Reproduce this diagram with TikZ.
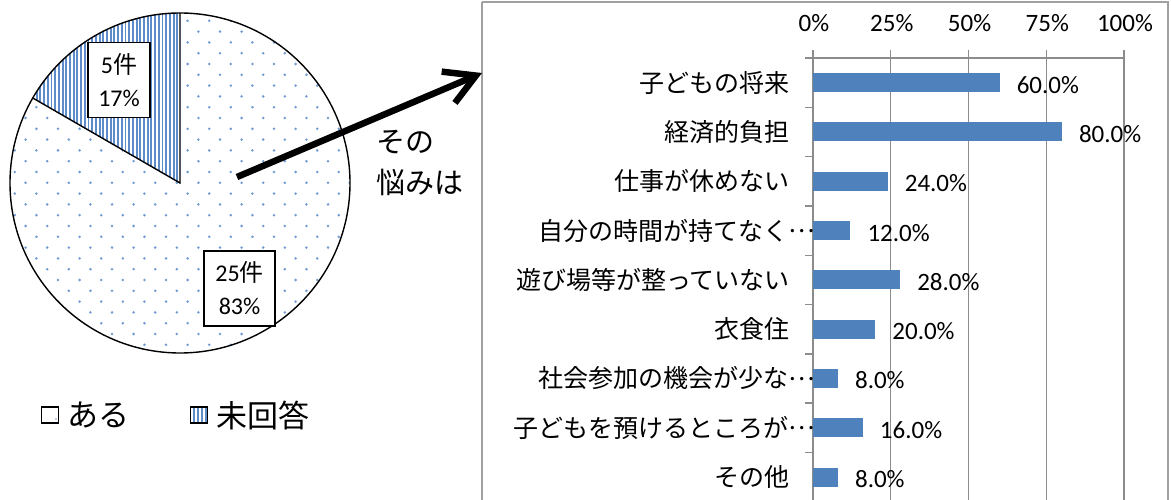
\documentclass[tikz,border=0pt]{standalone}
\usepackage{fontspec}
\setmainfont{Carlito}
\newfontfamily\cjk{Noto Sans CJK JP}
\usetikzlibrary{arrows.meta}
\definecolor{barblue}{HTML}{4F81BD}
\definecolor{dotblue}{HTML}{709BD2}
\definecolor{stripeblue}{HTML}{5E8CC8}
\definecolor{gridgray}{HTML}{8C8C8C}
\definecolor{framegray}{HTML}{A0A0A0}
\tikzset{
  piebox/.style={draw=black, line width=1.2pt, fill=white, align=center, inner sep=0pt,
    font=\fontsize{24}{33}\selectfont},
  catlabel/.style={anchor=east, inner sep=0pt, font=\cjk\fontsize{25}{25}\selectfont},
  vallabel/.style={anchor=base west, inner sep=0pt, font=\fontsize{25}{25}\selectfont},
  axlabel/.style={anchor=base, inner sep=0pt, font=\fontsize{25}{25}\selectfont},
  bar/.style={fill=barblue, draw=none},
  grid/.style={draw=gridgray, line width=1.4pt},
  legtext/.style={anchor=west, inner sep=0pt, font=\cjk\fontsize{31}{31}\selectfont},
}
\newcommand{\myell}{\raisebox{0.3em}{…}}
\begin{document}
\begin{tikzpicture}[x=1pt,y=-1pt]
\useasboundingbox (0,0) rectangle (1171,500);
% ---------- pie ----------
\coordinate (pc) at (180,183);
\begin{scope}
  \clip (pc) circle (170);
  \foreach \r in {0,...,32} {
    \foreach \c in {0,...,16} {
      \fill[dotblue] ({4 + 21.6*\c + mod(\r,2)*10.8}, {10 + 10.8*\r}) circle (1.4);
    }
  }
\end{scope}
\begin{scope}
  \clip (pc) -- (180,13) arc[start angle=-90, end angle=-150, radius=170] -- cycle;
  \fill[white] (0,0) rectangle (200,200);
  \foreach \i in {0,...,40} {
    \draw[stripeblue, line width=1.9pt] ({181 - 3.7*\i}, 0) -- ({181 - 3.7*\i}, 190);
  }
\end{scope}
\draw[line width=1.4pt] (pc) circle (170);
\draw[line width=1.4pt] (180,13) -- (pc) -- ++(-150:170);
\node[piebox, minimum width=62pt, minimum height=75pt] (lab5) at (119,80)
  {5{\cjk 件}\\17\%};
\node[piebox, minimum width=71pt, minimum height=75pt] (lab25) at (239.5,288.5)
  {25{\cjk 件}\\83\%};
% ---------- legend ----------
\node[draw=black, line width=1.2pt, fill=white, minimum width=17pt, minimum height=16pt, inner sep=0pt] (leg1) at (50,415) {};
\fill[dotblue] (56,419) circle (0.9);
\node[legtext] (leg1t) at (67,415) {ある};
\node[draw=black, line width=1.2pt, fill=white, minimum width=17pt, minimum height=16pt, inner sep=0pt] (leg2) at (199,415) {};
\foreach \xx in {193.5,197.5,201.5,205.5} {
  \draw[stripeblue, line width=2pt] (\xx,408) -- (\xx,422);
}
\draw[line width=1.2pt] (190.5,407) rectangle (207.5,423);
\node[legtext] (leg2t) at (216,415) {未回答};
% ---------- chart frame ----------
\draw[framegray, line width=2pt] (482,2) -- (1168,2) -- (1168,510) (482,2) -- (482,510);
% text
\node[anchor=west, inner sep=0pt, align=left, font=\cjk\fontsize{29}{41}\selectfont] (sono) at (376,163) {その\\悩みは};
% arrow
\coordinate (arrs) at (237,177);
\coordinate (arre) at (482,73);
\draw[line width=6.5pt, -{Straight Barb[length=30pt, width=34pt, line width=6.5pt]}] (arrs) -- (arre);
% ---------- bar chart ----------
\def\xz{813}
\def\sc{3.11}
\foreach \k/\t in {0/0\%,1/25\%,2/50\%,3/75\%,4/100\%} {
  \draw[grid] ({\xz+77.75*\k},50) -- ({\xz+77.75*\k},505);
  \node[axlabel] at ({\xz+77.75*\k+1},32) {\t};
}
\draw[grid] (805,58) -- ({\xz+311},58);
\foreach \i in {1,...,9} {
  \draw[grid] (805,{58+49.3*\i}) -- (\xz,{58+49.3*\i});
}
\foreach \i/\v/\lab/\ex in {
  0/60/子どもの将来/790,
  1/80/経済的負担/790,
  2/24/仕事が休めない/790,
  3/12/自分の時間が持てなく\myell/815,
  4/28/遊び場等が整っていない/790,
  5/20/衣食住/790,
  6/8/社会参加の機会が少な\myell/815,
  7/16/子どもを預けるところが\myell/815,
  8/8/その他/790} {
  \pgfmathsetmacro{\yc}{58+49.3*(\i+0.5)}
  \pgfmathsetmacro{\xe}{\xz+\sc*\v}
  \fill[bar] (\xz,{\yc-9.5}) rectangle (\xe,{\yc+9.5});
  \node[catlabel] at (\ex,\yc) {\lab};
  \node[vallabel] at ({\xe+17},{\yc+10.5}) {\v.0\%};
}
\end{tikzpicture}
\end{document}
